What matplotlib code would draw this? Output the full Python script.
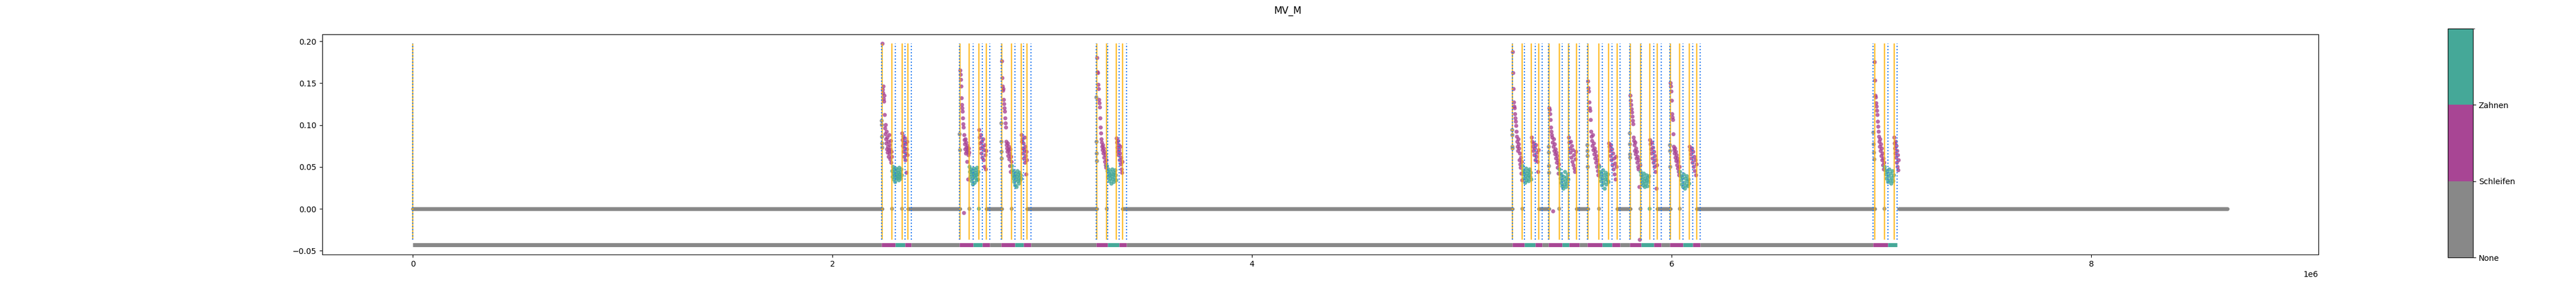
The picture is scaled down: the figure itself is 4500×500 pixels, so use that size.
import numpy as np
import matplotlib
matplotlib.use("Agg")
import matplotlib.pyplot as plt
from matplotlib.colors import ListedColormap, BoundaryNorm
from matplotlib.cm import ScalarMappable

title = "MV_M"
label_names = ["None", "Schleifen", "Zahnen"]
label_colors = ["#888888", "#A84594", "#45A898"]

# true segment starts (blue dotted), x in 1e6
true_bounds = [0.0,
               2.2347, 2.3001, 2.3465, 2.3766,
               2.6057, 2.6704, 2.7140, 2.7495,
               2.8049, 2.8704, 2.9113, 2.9468,
               3.2578, 3.3116, 3.3670, 3.4016,
               5.2399, 5.2983, 5.3496, 5.3823,
               5.4142, 5.4786, 5.5102, 5.5602,
               5.5981, 5.6699, 5.7163, 5.7539,
               5.8003, 5.8537, 5.9146, 5.9501,
               5.9915, 6.0549, 6.0999, 6.1351,
               6.9608, 7.0301, 7.0751]
true_labels = [0] + [1, 2, 1, 0] * 9 + [1, 2]

# predicted segment starts (orange), x in 1e6
pred_bounds = [0.0,
               2.2382, 2.2846, 2.3321, 2.3594,
               2.6093, 2.6529, 2.6993, 2.7348,
               2.8076, 2.8548, 2.9012, 2.9285,
               3.2614, 3.3078, 3.3542, 3.3834,
               5.2423, 5.2887, 5.3324, 5.3678,
               5.4164, 5.4641, 5.5092, 5.5457,
               5.6006, 5.6541, 5.7004, 5.7392,
               5.8027, 5.8513, 5.8963, 5.9318,
               5.9940, 6.0390, 6.0851, 6.1206,
               6.9668, 7.0143, 7.0606, 7.0830,
               8.6490]
pred_labels = [0] + [1, 2, 1, 0] * 10

# signal values inside each active block
schleifen_1 = [
    [0.197, 0.142, 0.138, 0.146, 0.131, 0.128, 0.135, 0.112, 0.096, 0.089, 0.100, 0.083, 0.078, 0.092, 0.071,
     0.085, 0.067, 0.074, 0.080, 0.062, 0.070, 0.088, 0.066, 0.076, 0.059, 0.071, 0.081, 0.055, 0.068, 0.062],
    [0.165, 0.160, 0.154, 0.146, 0.132, 0.124, 0.120, 0.116, 0.108, 0.101, 0.097, -0.005, 0.088, 0.082, 0.077,
     0.071, 0.083, 0.066, 0.079, 0.073, 0.068, 0.056, 0.075, 0.070, 0.035, 0.064, 0.072, 0.067],
    [0.176, 0.156, 0.146, 0.141, 0.143, 0.130, 0.125, 0.120, 0.116, 0.108, 0.102, 0.097, 0.080, 0.076, 0.072,
     0.068, 0.078, 0.063, 0.070, 0.074, 0.059, 0.066, 0.051, 0.071, 0.044, 0.062, 0.056],
    [0.180, 0.163, 0.162, 0.148, 0.143, 0.130, 0.126, 0.121, 0.108, 0.097, 0.090, 0.083, 0.079, 0.074, 0.070,
     0.076, 0.066, 0.072, 0.061, 0.068, 0.056, 0.064, 0.052, 0.049, 0.058],
    [0.187, 0.162, 0.143, 0.127, 0.122, 0.120, 0.113, 0.108, 0.104, 0.099, 0.092, 0.086, 0.080, 0.074, 0.069,
     0.083, 0.077, 0.072, 0.058, 0.066, 0.053, 0.049, 0.061, 0.042, 0.056, 0.034],
    [0.120, 0.118, 0.113, 0.106, 0.097, 0.092, 0.088, 0.085, 0.079, -0.003, 0.074, 0.083, 0.069, 0.077, 0.065,
     0.071, 0.060, 0.067, 0.055, 0.063, 0.049, 0.058, 0.042, 0.053],
    [0.152, 0.144, 0.140, 0.127, 0.120, 0.117, 0.106, 0.092, 0.086, 0.081, 0.075, 0.088, 0.070, 0.078, 0.065,
     0.072, 0.060, 0.068, 0.055, 0.063, 0.050, 0.058, 0.045, 0.040, 0.052],
    [0.135, 0.129, 0.124, 0.119, 0.115, 0.110, 0.105, 0.101, 0.085, 0.081, 0.076, 0.069, 0.079, 0.065, 0.072,
     0.060, 0.068, 0.055, 0.062, 0.050, 0.047, 0.058, 0.026, -0.037, 0.052],
    [0.150, 0.146, 0.140, 0.129, 0.113, 0.109, 0.106, 0.089, 0.074, 0.070, 0.066, 0.072, 0.061, 0.068, 0.057,
     0.064, 0.052, 0.060, 0.048, 0.056, 0.044, 0.040, 0.050],
    [0.175, 0.153, 0.135, 0.133, 0.126, 0.122, 0.117, 0.112, 0.104, 0.098, 0.092, 0.086, 0.080, 0.074, 0.083,
     0.069, 0.077, 0.063, 0.072, 0.058, 0.066, 0.052, 0.060, 0.047, 0.055],
]
zahnen = [
    [0.045, 0.038, 0.050, 0.042, 0.035, 0.047, 0.040, 0.032, 0.044, 0.048, 0.037, 0.041, 0.036, 0.046, 0.039,
     0.043, 0.034, 0.049, 0.041, 0.038, 0.044, 0.036, 0.047, 0.040],
    [0.050, 0.044, 0.038, 0.047, 0.041, 0.033, 0.045, 0.036, 0.029, 0.042, 0.048, 0.039, 0.031, 0.043, 0.037,
     0.046, 0.040, 0.034, 0.049, 0.041, 0.035, 0.044, 0.000],
    [0.051, 0.046, 0.040, 0.036, 0.044, 0.032, 0.039, 0.028, 0.042, 0.035, 0.026, 0.038, 0.045, 0.033, 0.041,
     0.030, 0.037, 0.043, 0.034, 0.040, 0.036],
    [0.051, 0.045, 0.038, 0.047, 0.042, 0.033, 0.040, 0.036, 0.044, 0.030, 0.039, 0.047, 0.035, 0.041, 0.032,
     0.043, 0.037, 0.046, 0.040, 0.034],
    [0.051, 0.046, 0.041, 0.036, 0.044, 0.031, 0.039, 0.048, 0.034, 0.042, 0.037, 0.045, 0.033, 0.040, 0.047,
     0.038, 0.043, 0.035],
    [0.047, 0.042, 0.036, 0.031, 0.040, 0.027, 0.034, 0.024, 0.038, 0.029, 0.044, 0.033, 0.026, 0.037, 0.030,
     0.041, 0.035],
    [0.050, 0.044, 0.038, 0.033, 0.042, 0.028, 0.036, 0.046, 0.031, 0.040, 0.024, 0.035, 0.043, 0.029, 0.038,
     0.034, 0.041, 0.032],
    [0.044, 0.040, 0.035, 0.031, 0.038, 0.028, 0.042, 0.033, 0.026, 0.036, 0.030, 0.040, 0.034, 0.027, 0.037,
     0.032, 0.039, 0.000],
    [0.044, 0.039, 0.034, 0.029, 0.037, 0.026, 0.041, 0.031, 0.024, 0.036, 0.028, 0.039, 0.033, 0.027, 0.035,
     0.030],
    [0.050, 0.046, 0.041, 0.036, 0.044, 0.032, 0.039, 0.047, 0.034, 0.042, 0.030, 0.037, 0.045, 0.033, 0.040],
]
schleifen_2 = [
    [0.090, 0.082, 0.075, 0.086, 0.068, 0.079, 0.062, 0.072, 0.084, 0.058, 0.077, 0.066, 0.043, 0.071, 0.080, 0.064],
    [0.094, 0.085, 0.078, 0.072, 0.088, 0.066, 0.080, 0.061, 0.074, 0.083, 0.058, 0.070, 0.050, 0.076, 0.064,
     0.047, 0.069],
    [0.088, 0.080, 0.083, 0.072, 0.066, 0.078, 0.060, 0.070, 0.085, 0.055, 0.074, 0.063, 0.041, 0.068, 0.058],
    [0.084, 0.079, 0.073, 0.068, 0.081, 0.064, 0.076, 0.070, 0.058, 0.066, 0.074, 0.053, 0.061, 0.047, 0.043, 0.056],
    [0.085, 0.080, 0.074, 0.069, 0.078, 0.064, 0.072, 0.058, 0.076, 0.062, 0.067, 0.056, 0.044, 0.070],
    [0.085, 0.079, 0.072, 0.067, 0.080, 0.061, 0.075, 0.056, 0.070, 0.052, 0.064, 0.048, 0.044, 0.059, 0.068],
    [0.078, 0.074, 0.069, 0.063, 0.076, 0.058, 0.071, 0.052, 0.066, 0.047, 0.060, 0.041, 0.054, 0.035, 0.062, 0.050],
    [0.082, 0.077, 0.071, 0.066, 0.079, 0.060, 0.073, 0.055, 0.068, 0.050, 0.063, 0.044, 0.058, 0.024, 0.052],
    [0.074, 0.070, 0.065, 0.060, 0.072, 0.055, 0.068, 0.050, 0.062, 0.045, 0.058, 0.040, 0.053],
    [0.085, 0.078, 0.072, 0.066, 0.080, 0.061, 0.075, 0.055, 0.069, 0.050, 0.064, 0.046, 0.058],
]
# "None" points between true start and predicted start of each block
none_lead = [
    [0.105, 0.100, 0.086, 0.078, 0.073],
    [0.089, 0.070],
    [0.102, 0.080, 0.068, 0.060],
    [0.133, 0.080, 0.066, 0.057],
    [0.094, 0.088, 0.074, 0.072],
    [0.074, 0.067, 0.051, 0.043],
    [0.076, 0.069, 0.063, 0.050],
    [0.090, 0.077, 0.065, 0.061],
    [0.076, 0.069, 0.050],
    [0.091, 0.077, 0.067, 0.059],
]
# single idle samples inside blocks
none_blips = [2.2846, 2.3321, 2.6529, 2.8548, 3.3078, 5.2887, 5.4641, 5.6541, 5.8513, 6.0390, 7.0143]

sig_min, sig_max = -0.037, 0.197
band_y = -0.0433
scale = 1e6


def spread(a, b, vals):
    n = len(vals)
    return a + (np.arange(n) + 0.5) * (b - a) / n


fig, ax = plt.subplots(figsize=(45, 5), dpi=100)
fig.suptitle(title)

# idle baseline (dense samples at zero)
for i, lab in enumerate(pred_labels):
    if lab == 0:
        ax.hlines(0, pred_bounds[i] * scale, pred_bounds[i + 1] * scale, colors=label_colors[0],
                  linewidth=4.8, capstyle="round", zorder=2)

xs, ys, cs = [], [], []
blocks = [(schleifen_1, 1, 0), (zahnen, 2, 1), (schleifen_2, 1, 2)]
for g in range(len(schleifen_1)):
    b = pred_bounds[1 + 4 * g: 6 + 4 * g]
    for data, lab, k in blocks:
        xs += list(spread(b[k], b[k + 1], data[g]))
        ys += data[g]
        cs += [label_colors[lab]] * len(data[g])
    t0 = true_bounds[1 + 4 * g]
    xs += list(spread(t0, b[0], none_lead[g]))
    ys += none_lead[g]
    cs += [label_colors[0]] * len(none_lead[g])
xs += none_blips
ys += [0.0] * len(none_blips)
cs += [label_colors[0]] * len(none_blips)
ax.scatter(np.array(xs) * scale, ys, c=cs, s=26, alpha=0.8, linewidths=0, zorder=3)

# true label band
for i, lab in enumerate(true_labels):
    ax.hlines(band_y, true_bounds[i] * scale, true_bounds[i + 1] * scale, colors=label_colors[lab],
              linewidth=5, zorder=2)

ax.vlines(np.array(pred_bounds[:-2]) * scale, sig_min, sig_max, colors="#FFB000", linewidth=1.7,
          alpha=0.8, zorder=4)
ax.vlines(np.array(true_bounds) * scale, sig_min, sig_max, colors="#1E78F0", linewidth=1.5,
          linestyles=":", zorder=5)

ax.set_xlim(-0.4325 * scale, 9.0825 * scale)
ax.set_ylim(-0.0546, 0.2082)

cax = fig.add_axes([0.9502, 0.1, 0.0098, 0.8])
sm = ScalarMappable(norm=BoundaryNorm([0, 1, 2, 3], 3), cmap=ListedColormap(label_colors))
cb = fig.colorbar(sm, cax=cax, ticks=[0, 1, 2])
cb.set_ticklabels(label_names)

plt.savefig("out.png")
